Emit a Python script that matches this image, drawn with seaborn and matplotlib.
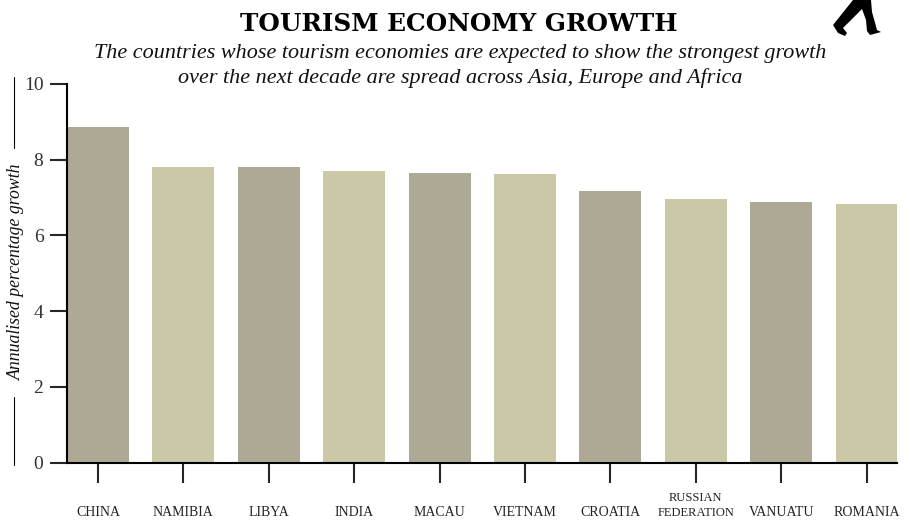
import matplotlib.pyplot as plt
import pandas as pd
import seaborn as sns
from matplotlib.lines import Line2D
from matplotlib.patches import Polygon


COUNTRIES = ["China", "Namibia", "Libya", "India", "Macau", "Vietnam", "Croatia",
             "Russian Federation", "Vanuatu", "Romania"]
TICK_LABELS = ["CHINA", "NAMIBIA", "LIBYA", "INDIA", "MACAU", "VIETNAM", "CROATIA",
               "RUSSIAN\nFEDERATION", "VANUATU", "ROMANIA"]
GROWTH = [8.87, 7.82, 7.82, 7.71, 7.66, 7.61, 7.18, 6.97, 6.89, 6.84]
Y_TICKS = [0, 2, 4, 6, 8, 10]
BAR_COLOURS = ["#aea994", "#cbc8a8"] * 5

TITLE = "TOURISM ECONOMY GROWTH"
SUBTITLE = ("The countries whose tourism economies are expected to show the strongest growth\n"
            "over the next decade are spread across Asia, Europe and Africa")
Y_LABEL = "Annualised percentage growth"

WIDTH = 910
HEIGHT = 522


def px(x, y):
    return x / WIDTH, 1 - y / HEIGHT


sns.set_style("ticks")
plt.rcParams["font.family"] = ["Liberation Serif", "DejaVu Serif"]

fig = plt.figure(figsize=(WIDTH / 100, HEIGHT / 100), dpi=100)
ax = fig.add_axes([67 / WIDTH, 1 - 462.5 / HEIGHT, (897 - 67) / WIDTH, (462.5 - 84) / HEIGHT])

df = pd.DataFrame({"country": COUNTRIES, "growth": GROWTH})
sns.barplot(data=df, x="country", y="growth", hue="country", palette=BAR_COLOURS,
            width=0.726, saturation=1, legend=False, linewidth=0, ax=ax)

ax.set_xlim(-0.363, 9.356)
ax.set_ylim(0, 10)
ax.set_xlabel("")
ax.set_ylabel("")
ax.set_yticks(Y_TICKS)
ax.set_xticks(range(len(TICK_LABELS)))
ax.set_xticklabels(TICK_LABELS, fontsize=10, color="#222222", linespacing=1.3, va="bottom")
ax.get_xticklabels()[7].set_fontsize(9)
ax.tick_params(axis="y", length=12, width=1.5, pad=5, labelsize=14, labelcolor="#333333")
ax.tick_params(axis="x", length=14.5, width=1.5, pad=26)
sns.despine(ax=ax)
for side in ["left", "bottom"]:
    ax.spines[side].set_linewidth(1.5)
    ax.spines[side].set_color("black")

fig.text(*px(459, 24), TITLE, ha="center", va="center", fontsize=17.8,
         fontweight="bold", family="DejaVu Serif", color="black")
fig.text(*px(460, 66), SUBTITLE, ha="center", va="center", fontsize=15.95,
         style="italic", color="#111111", linespacing=1.35)
fig.text(*px(16.5, 272), Y_LABEL, ha="center", va="center", rotation=90, fontsize=12.8,
         style="italic", color="#111111")

# rules either side of the y label
for y0, y1 in [(77, 148), (397, 465)]:
    fig.add_artist(Line2D([14 / WIDTH, 14 / WIDTH], [px(0, y0)[1], px(0, y1)[1]],
                          color="black", linewidth=0.8))

# walking figure cut off at the top right
legs = [(853, 0), (833, 25), (838, 33), (845, 36), (847, 33), (843, 28), (862, 9),
        (866, 20), (867, 31), (870, 35), (881, 32), (877, 30), (872, 12), (871, 0)]
fig.add_artist(Polygon([px(x, y) for x, y in legs], closed=True, facecolor="black",
                       linewidth=0, transform=fig.transFigure))

fig.savefig("out.png", dpi=100)
